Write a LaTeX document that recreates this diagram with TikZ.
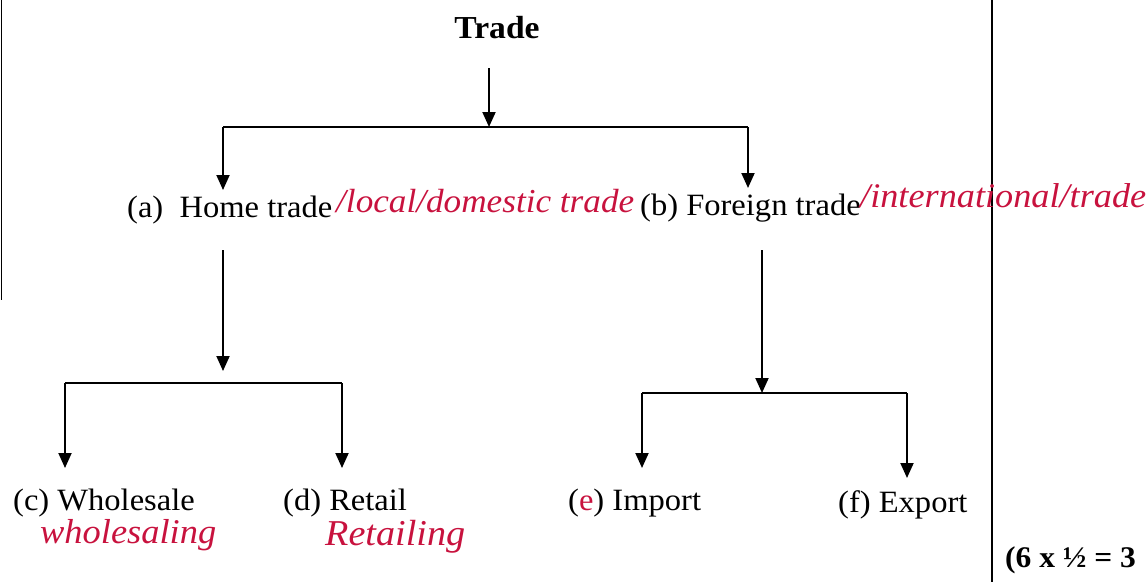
\documentclass[tikz,border=0pt]{standalone}
\usepackage{fontspec}
\setmainfont[FakeStretch=1.05]{Liberation Serif}
\usetikzlibrary{arrows.meta}
\definecolor{pen}{RGB}{200,18,62}
\tikzset{
  lbl/.style={inner sep=0pt, font=\fontsize{31}{36}\selectfont, anchor=base west},
  hand/.style={inner sep=0pt, text=pen, font=\fontsize{30}{34}\selectfont\itshape, anchor=base west},
  arr/.style={line width=1.9pt, -{Triangle[length=15pt,width=13pt]}},
  bar/.style={line width=2.5pt},
  rule/.style={line width=1.6pt}
}
\begin{document}
\begin{tikzpicture}[x=1pt,y=-1pt]
\useasboundingbox (0,0) rectangle (1146,582);
% page rules
\draw[rule] (1.5,0) -- (1.5,300);
\draw[rule] (992,0) -- (992,582);
% texts
\node[lbl, anchor=base, font=\fontsize{32}{36}\selectfont\bfseries] (trade) at (497,38) {Trade};
\node[lbl] (home) at (127,217) {(a)\ \ Home trade};
\node[lbl] (foreign) at (640,215) {(b) Foreign trade};
\node[lbl] (whole) at (13,510) {(c) Wholesale};
\node[lbl] (retail) at (283,510) {(d) Retail};
\node[lbl] (import) at (568,510) {(\textcolor{pen}{e}) Import};
\node[lbl] (export) at (838,512) {(f) Export};
\node[lbl, font=\fontsize{30}{34}\selectfont\bfseries] (marks) at (1005,567) {(6 x ½ = 3};
% handwriting
\node[hand] (h1) at (336,212) {\resizebox{298pt}{!}{/local/domestic trade}};
\node[hand] (h2) at (860,207) {\resizebox{286pt}{!}{/international/trade}};
\node[hand] (h3) at (40,543) {\resizebox{176pt}{!}{wholesaling}};
\node[hand] (h4) at (325,545) {\resizebox{140pt}{!}{Retailing}};
% junctions
\coordinate (t0) at (489,68);
\coordinate (j1) at (489,127);
\coordinate (j1l) at (223,127);
\coordinate (j1r) at (748,127);
\coordinate (ha) at (223,190);
\coordinate (fa) at (748,188);
\coordinate (h0) at (223,250);
\coordinate (h1e) at (223,371);
\coordinate (j2l) at (65,383);
\coordinate (j2r) at (342,383);
\coordinate (ca) at (65,468);
\coordinate (da) at (342,468);
\coordinate (f0) at (762,250);
\coordinate (j3) at (762,393);
\coordinate (j3l) at (642,393);
\coordinate (j3r) at (907,393);
\coordinate (ea) at (642,468);
\coordinate (xa) at (907,478);
% connectors
\draw[arr] (t0) -- (j1);
\draw[bar] (j1l) -- (j1r);
\draw[arr] (j1l) -- (ha);
\draw[arr] (j1r) -- (fa);
\draw[arr] (h0) -- (h1e);
\draw[bar] (j2l) -- (j2r);
\draw[arr] (j2l) -- (ca);
\draw[arr] (j2r) -- (da);
\draw[arr] (f0) -- (j3);
\draw[bar] (j3l) -- (j3r);
\draw[arr] (j3l) -- (ea);
\draw[arr] (j3r) -- (xa);
\end{tikzpicture}
\end{document}
